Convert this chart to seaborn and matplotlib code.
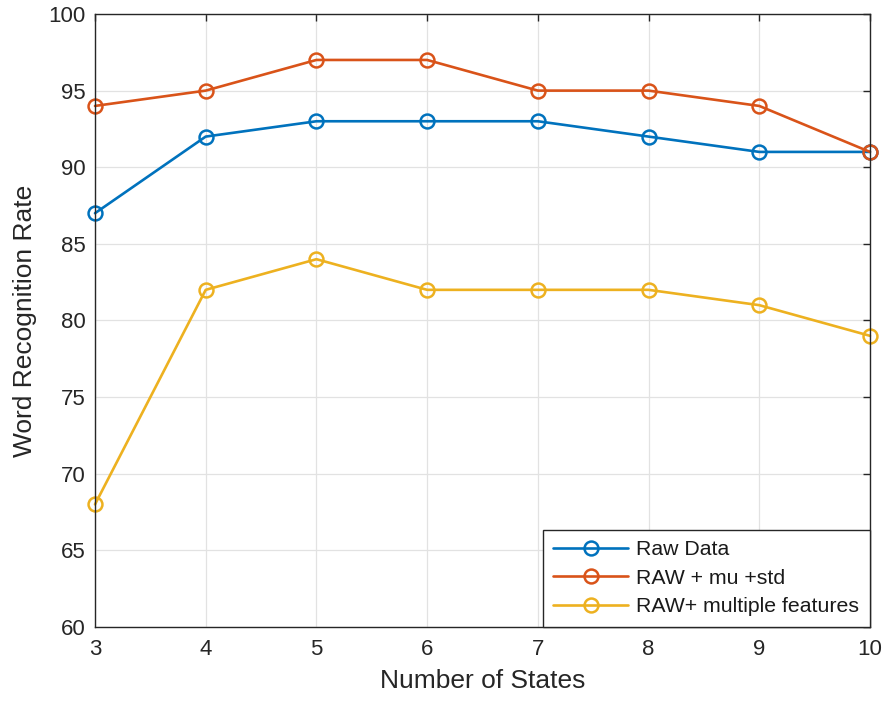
import numpy as np
import pandas as pd
import matplotlib
matplotlib.use("Agg")
import matplotlib.pyplot as plt
import seaborn as sns

# Word recognition rate versus number of HMM states
states = [3, 4, 5, 6, 7, 8, 9, 10]
raw_data = [87, 92, 93, 93, 93, 92, 91, 91]
raw_mu_std = [94, 95, 97, 97, 95, 95, 94, 91]
raw_multi = [68, 82, 84, 82, 82, 82, 81, 79]
series_names = ["Raw Data", "RAW + mu +std", "RAW+ multiple features"]
colors = ["#0072BD", "#D95319", "#EDB120"]
y_ticks = [60, 65, 70, 75, 80, 85, 90, 95, 100]

df = pd.DataFrame({
    "states": states * 3,
    "rate": raw_data + raw_mu_std + raw_multi,
    "series": np.repeat(series_names, len(states)),
})

sns.set_theme(style="white")
plt.rcParams["font.family"] = ["Liberation Sans", "DejaVu Sans"]

axis_color = "#262626"
fig = plt.figure(figsize=(8.87, 7.06), dpi=100)
ax = fig.add_axes([0.1071, 0.1119, 0.8737, 0.8683])

sns.lineplot(data=df, x="states", y="rate", hue="series", hue_order=series_names,
             palette=colors, marker="o", markersize=10, linewidth=1.9,
             legend=False, ax=ax, clip_on=False)

# open circle markers in the line colour
for line in ax.lines:
    line.set_markeredgecolor(line.get_color())
    line.set_markerfacecolor("none")
    line.set_markeredgewidth(1.8)

ax.set_xlim(3, 10)
ax.set_ylim(60, 100)
ax.set_xticks(states)
ax.set_yticks(y_ticks)
ax.grid(True, color="#e2e2e2", linewidth=0.9)
ax.set_axisbelow(True)
for sp in ax.spines.values():
    sp.set_color(axis_color)
    sp.set_linewidth(1.0)
ax.tick_params(direction="in", top=True, right=True, length=5, width=1.0,
               colors=axis_color, labelsize=16, pad=7)
ax.tick_params(axis="x", pad=9)

ax.set_xlabel("Number of States", fontsize=19, color=axis_color, labelpad=6)
ax.set_ylabel("Word Recognition Rate", fontsize=19, color=axis_color, labelpad=8)

leg = ax.legend(ax.lines[:3], series_names, loc="lower right",
                bbox_to_anchor=(1.0, 0.0), borderaxespad=0, fontsize=15.3,
                frameon=True, fancybox=False, framealpha=1, edgecolor=axis_color,
                handlelength=3.5, handletextpad=0.4, labelspacing=0.45,
                borderpad=0.5)
leg.get_frame().set_linewidth(1.0)
for t in leg.get_texts():
    t.set_color("#1a1a1a")

fig.savefig("out.png", dpi=100, facecolor="white")
